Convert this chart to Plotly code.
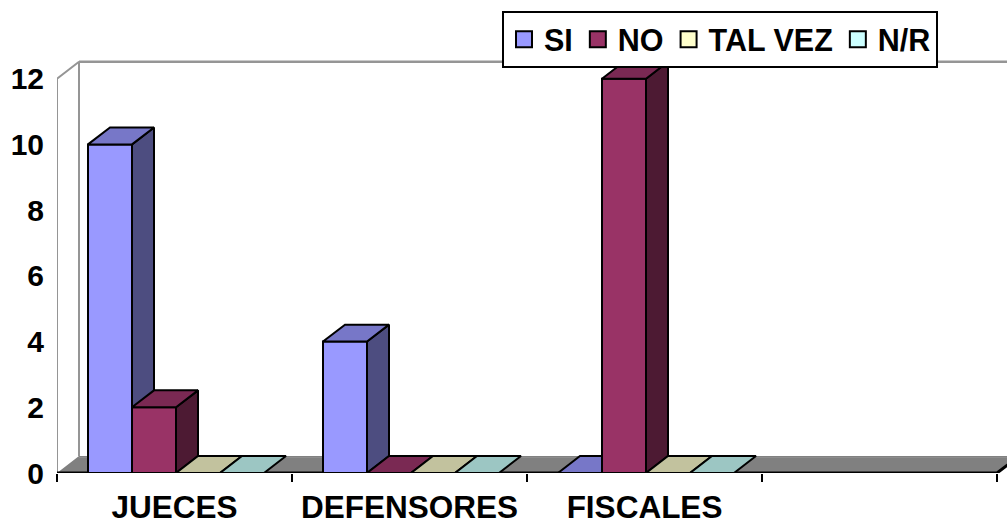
import plotly.graph_objects as go

# Survey answers per group
categories = ["JUECES", "DEFENSORES", "FISCALES", ""]
series_names = ["SI", "NO", "TAL VEZ", "N/R"]
si_values = [10, 4, 0]
no_values = [2, 0, 12]
talvez_values = [0, 0, 0]
nr_values = [0, 0, 0]
y_ticks = [0, 2, 4, 6, 8, 10, 12]

series_values = [si_values, no_values, talvez_values, nr_values]

# face colours: front, top, side
front_colors = ["#9999FF", "#993366", "#FFFFCC", "#CCFFFF"]
top_colors = ["#7777C8", "#7A2953", "#C2C29E", "#9CC6C3"]
side_colors = ["#4D4D80", "#4D1A33", "#80806A", "#668080"]

# figure geometry (pixels)
W, H = 1007, 525
ML, MB = 57, 50
PX_PER_CAT = 235.0
PX_PER_UNIT = 33.0
DEPTH_PX_X, DEPTH_PX_Y = 22.0, 17.0

plot_w = W - ML
plot_h = H - MB
x_max = plot_w / PX_PER_CAT
y_max = plot_h / PX_PER_UNIT
DX = DEPTH_PX_X / PX_PER_CAT
DY = DEPTH_PX_Y / PX_PER_UNIT
n_cat = len(categories)
top_val = y_ticks[-1]

bar_w = 44.0 / PX_PER_CAT
gap_left = 31.0 / PX_PER_CAT

fig = go.Figure()


def poly(xs, ys, fill, line_color, line_width=2):
    fig.add_trace(go.Scatter(
        x=xs + [xs[0]], y=ys + [ys[0]], mode="lines", fill="toself",
        fillcolor=fill, line=dict(color=line_color, width=line_width),
        hoverinfo="skip", showlegend=False))


def line(xs, ys, color, width):
    fig.add_trace(go.Scatter(
        x=xs, y=ys, mode="lines", line=dict(color=color, width=width),
        hoverinfo="skip", showlegend=False))


# back wall and left side wall outlines
wall_gray = "#959595"
line([DX, x_max + DX], [top_val + DY, top_val + DY], wall_gray, 2.5)
line([0, 0, DX, DX], [0, top_val, top_val + DY, DY], wall_gray, 2)

# floor
fx = [0, DX, x_max + 2 * DX, x_max + 2 * DX, n_cat + DX, n_cat]
fy = [0, DY, DY, DY, DY, 0]
fig.add_trace(go.Scatter(
    x=fx + [fx[0]], y=fy + [fy[0]], mode="lines", fill="toself",
    fillcolor="#808080", line=dict(width=0), hoverinfo="skip",
    showlegend=False))
line([DX, x_max + DX], [DY * 0.92, DY * 0.92], "#8E8E8E", 1)
line([0, n_cat, n_cat + DX], [0, 0, DY], "#000000", 3)

# 3-D columns, drawn left to right so later columns overlap earlier sides
for ci in range(len(si_values)):
    for si, vals in enumerate(series_values):
        v = vals[ci]
        x0 = ci + gap_left + si * bar_w
        x1 = x0 + bar_w
        if v > 0:
            poly([x0, x1, x1, x0], [0, 0, v, v], front_colors[si], "#000000")
            poly([x1, x1 + DX, x1 + DX, x1], [0, DY, v + DY, v],
                 side_colors[si], "#000000")
        poly([x0, x0 + DX, x1 + DX, x1], [v, v + DY, v + DY, v],
             top_colors[si], "#000000")

# legend entries
for si, name in enumerate(series_names):
    fig.add_trace(go.Scatter(
        x=[None], y=[None], mode="markers", name=name,
        marker=dict(symbol="square", size=16, color=front_colors[si],
                    line=dict(color="#000000", width=2))))


def bold(size):
    return dict(family="Arial, Liberation Sans, sans-serif", size=size,
                color="#000000", weight="bold")


fig.update_layout(
    width=W, height=H,
    margin=dict(l=ML, r=0, t=0, b=MB),
    paper_bgcolor="white", plot_bgcolor="white",
    showlegend=True,
    legend=dict(orientation="h", x=(938 - ML) / plot_w, xanchor="right",
                y=(plot_h - 11) / plot_h, yanchor="top",
                bgcolor="white", bordercolor="#000000", borderwidth=2,
                font=bold(30.5), itemwidth=30, tracegroupgap=0),
    xaxis=dict(range=[0, x_max], showgrid=False, zeroline=False,
               showline=False,
               tickmode="array", tickvals=[i + 0.5 for i in range(n_cat)],
               ticktext=categories, ticks="", tickfont=bold(31.5),
               ticklabelstandoff=12,
               minor=dict(tickmode="array", tickvals=list(range(n_cat + 1)),
                          ticks="outside", ticklen=8, tickwidth=2,
                          tickcolor="#000000", showgrid=False),
               fixedrange=True),
    yaxis=dict(range=[0, y_max], showgrid=False, zeroline=False,
               showline=False, tickmode="array", tickvals=y_ticks,
               ticks="", tickfont=bold(30), ticklabelstandoff=12,
               fixedrange=True),
)

fig.write_html("out.html")
